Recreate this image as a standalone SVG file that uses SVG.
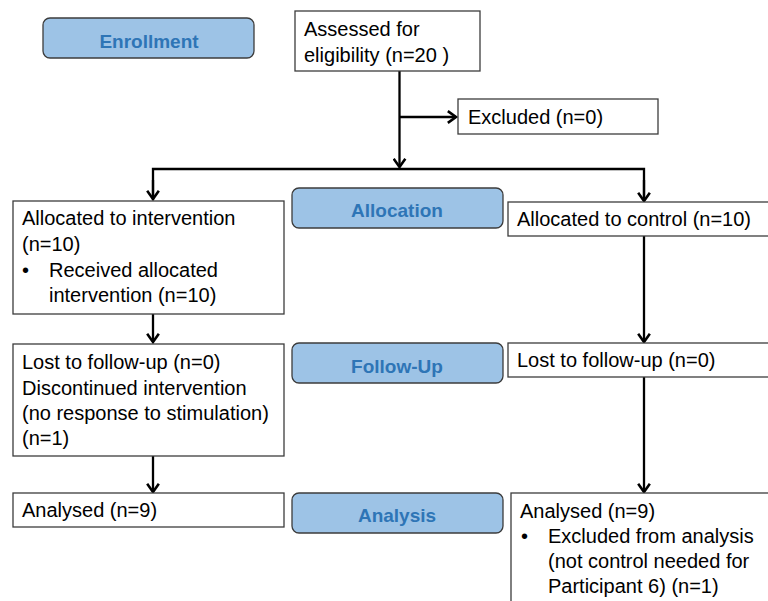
<svg xmlns="http://www.w3.org/2000/svg" width="768" height="601" viewBox="0 0 768 601">
<defs>
<style>
.box{fill:#ffffff;stroke:#3c3c3c;stroke-width:1.3}
.stage{fill:#9dc3e6;stroke:#3c3c3c;stroke-width:1.3}
.t{font-family:"Liberation Sans",Arial,sans-serif;font-size:20px;fill:#000}
.st{font-family:"Liberation Sans",Arial,sans-serif;font-size:19px;font-weight:bold;fill:#2e75b6;text-anchor:middle}
.c{fill:none;stroke:#000;stroke-width:2.3}
</style>
<marker id="ah" markerWidth="14" markerHeight="14" viewBox="-8 -6 10 12" refX="0" refY="0" orient="auto" markerUnits="userSpaceOnUse">
<path d="M-7,-5 L0,0 L-7,5" fill="none" stroke="#000" stroke-width="2.2"/>
</marker>
</defs>
<rect width="768" height="601" fill="#ffffff"/>

<g id="connectors">
<path class="c" d="M399.5,71 V167" marker-end="url(#ah)"/>
<path class="c" d="M399.5,117 H456" marker-end="url(#ah)"/>
<path class="c" d="M153,200 V169 H644 V200"/>
<path class="c" d="M153,180 V199" marker-end="url(#ah)"/>
<path class="c" d="M644,180 V201" marker-end="url(#ah)"/>
<path class="c" d="M153,314 V342" marker-end="url(#ah)"/>
<path class="c" d="M644,236 V342" marker-end="url(#ah)"/>
<path class="c" d="M153,456 V492" marker-end="url(#ah)"/>
<path class="c" d="M644,377 V492" marker-end="url(#ah)"/>
</g>

<g id="enrollment">
<rect class="stage" x="43" y="18" width="211" height="40" rx="7"/>
<text class="st" x="149" y="48">Enrollment</text>
</g>

<g id="assessed">
<rect class="box" x="295" y="11" width="185" height="60"/>
<text class="t" x="304" y="36">Assessed for</text>
<text class="t" x="304" y="62">eligibility (n=20 )</text>
</g>

<g id="excluded">
<rect class="box" x="458" y="99" width="200" height="35"/>
<text class="t" x="468" y="124">Excluded (n=0)</text>
</g>

<g id="allocation">
<rect class="stage" x="292" y="188" width="211" height="40" rx="7"/>
<text class="st" x="397" y="217">Allocation</text>
</g>

<g id="alloc-intervention">
<rect class="box" x="13" y="201" width="271" height="113"/>
<text class="t" x="22" y="225">Allocated to intervention</text>
<text class="t" x="22" y="251">(n=10)</text>
<text class="t" x="22" y="277">•</text>
<text class="t" x="49" y="277">Received allocated</text>
<text class="t" x="49" y="302">intervention (n=10)</text>
</g>

<g id="alloc-control">
<rect class="box" x="508" y="202" width="264" height="34"/>
<text class="t" x="517" y="226">Allocated to control (n=10)</text>
</g>

<g id="followup-intervention">
<rect class="box" x="13" y="344" width="271" height="112"/>
<text class="t" x="22" y="369">Lost to follow-up (n=0)</text>
<text class="t" x="22" y="395">Discontinued intervention</text>
<text class="t" x="22" y="420">(no response to stimulation)</text>
<text class="t" x="22" y="445">(n=1)</text>
</g>

<g id="followup">
<rect class="stage" x="292" y="343" width="211" height="40" rx="7"/>
<text class="st" x="397" y="373">Follow-Up</text>
</g>

<g id="followup-control">
<rect class="box" x="508" y="343" width="264" height="34"/>
<text class="t" x="517" y="367">Lost to follow-up (n=0)</text>
</g>

<g id="analysed-intervention">
<rect class="box" x="13" y="493" width="271" height="34"/>
<text class="t" x="22" y="517">Analysed (n=9)</text>
</g>

<g id="analysis">
<rect class="stage" x="292" y="493" width="211" height="40" rx="7"/>
<text class="st" x="397" y="522">Analysis</text>
</g>

<g id="analysed-control">
<rect class="box" x="511" y="493" width="262" height="120"/>
<text class="t" x="520" y="518">Analysed (n=9)</text>
<text class="t" x="521" y="543">•</text>
<text class="t" x="548" y="543">Excluded from analysis</text>
<text class="t" x="548" y="568">(not control needed for</text>
<text class="t" x="548" y="593">Participant 6) (n=1)</text>
</g>
</svg>
